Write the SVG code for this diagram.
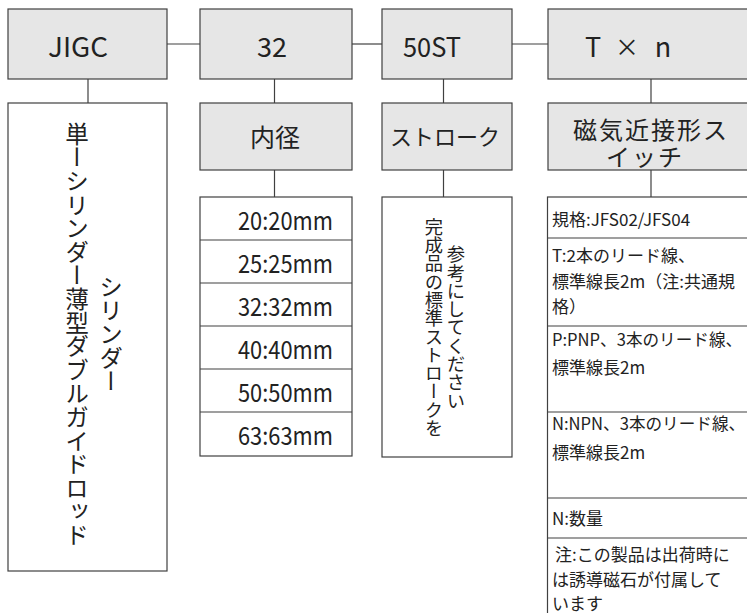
<svg xmlns="http://www.w3.org/2000/svg" width="747" height="613" viewBox="0 0 747 613">
<style>
.g{fill:#e6e6e6;stroke:#404040;stroke-width:1.2}
.w{fill:#ffffff;stroke:#404040;stroke-width:1.2}
.ln{stroke:#404040;stroke-width:1.2;fill:none}
text{font-family:"Noto Sans CJK JP","Noto Sans",sans-serif;fill:#222;dominant-baseline:central}
.big{font-size:27px;text-anchor:middle}
.mid{font-size:25px;text-anchor:middle}
.sz{font-size:25px;text-anchor:middle}
.vl{font-size:23.6px;writing-mode:vertical-rl;text-anchor:middle}
.vs{font-size:18.3px;writing-mode:vertical-rl;text-anchor:middle}
.sm{font-size:17px}
.sw{font-size:24px;letter-spacing:2px;text-anchor:middle}
</style>
<rect width="747" height="613" fill="#ffffff"/>
<g id="connectors">
<line class="ln" x1="167" y1="44" x2="200" y2="44"/>
<line class="ln" x1="352" y1="44" x2="382" y2="44"/>
<line class="ln" x1="512" y1="44" x2="548" y2="44"/>
<line class="ln" x1="88" y1="79" x2="88" y2="103"/>
<line class="ln" x1="274.5" y1="79" x2="274.5" y2="103"/>
<line class="ln" x1="274.5" y1="170" x2="274.5" y2="197"/>
<line class="ln" x1="443.5" y1="79" x2="443.5" y2="103"/>
<line class="ln" x1="443.5" y1="170" x2="443.5" y2="197"/>
<line class="ln" x1="651" y1="79" x2="651" y2="103"/>
<line class="ln" x1="651" y1="170" x2="651" y2="197"/>
</g>
<g id="n-jigc">
<rect class="g" x="8" y="9" width="159" height="70"/>
<text class="big" x="78" y="45" textLength="60" lengthAdjust="spacingAndGlyphs">JIGC</text>
</g>
<g id="n-32">
<rect class="g" x="200" y="9" width="152" height="70"/>
<text class="big" x="272" y="45" textLength="30" lengthAdjust="spacingAndGlyphs">32</text>
</g>
<g id="n-50st">
<rect class="g" x="382" y="9" width="130" height="70"/>
<text class="big" x="432" y="45" textLength="58" lengthAdjust="spacingAndGlyphs">50ST</text>
</g>
<g id="n-txn">
<rect class="g" x="548" y="9" width="215" height="70"/>
<text class="big" y="45"><tspan x="593">T</tspan><tspan x="627" style="font-size:24px">×</tspan><tspan x="663">n</tspan></text>
</g>
<g id="n-desc">
<rect class="w" x="8" y="103" width="159" height="468"/>
<text class="vl" x="77" y="334.5">単ーシリンダー薄型ダブルガイドロッド</text>
<text class="vl" x="111" y="334">シリンダー</text>
</g>
<g id="n-bore">
<rect class="g" x="200" y="103" width="152" height="67"/>
<text class="mid" x="275" y="136">内径</text>
</g>
<g id="n-bore-list">
<rect class="w" x="200" y="197" width="152" height="259"/>
<line class="ln" x1="200" y1="240" x2="352" y2="240"/>
<line class="ln" x1="200" y1="283" x2="352" y2="283"/>
<line class="ln" x1="200" y1="326" x2="352" y2="326"/>
<line class="ln" x1="200" y1="369" x2="352" y2="369"/>
<line class="ln" x1="200" y1="412" x2="352" y2="412"/>
<text class="sz" x="285.5" y="219" textLength="95" lengthAdjust="spacingAndGlyphs">20:20mm</text>
<text class="sz" x="285.5" y="262" textLength="95" lengthAdjust="spacingAndGlyphs">25:25mm</text>
<text class="sz" x="285.5" y="305" textLength="95" lengthAdjust="spacingAndGlyphs">32:32mm</text>
<text class="sz" x="285.5" y="348" textLength="95" lengthAdjust="spacingAndGlyphs">40:40mm</text>
<text class="sz" x="285.5" y="391" textLength="95" lengthAdjust="spacingAndGlyphs">50:50mm</text>
<text class="sz" x="285.5" y="434" textLength="95" lengthAdjust="spacingAndGlyphs">63:63mm</text>
</g>
<g id="n-stroke">
<rect class="g" x="382" y="103" width="130" height="67"/>
<text x="445" y="135" style="font-size:22px;text-anchor:middle">ストローク</text>
</g>
<g id="n-stroke-desc">
<rect class="w" x="382" y="197" width="130" height="260"/>
<text class="vs" x="434" y="327.5">完成品の標準ストロークを</text>
<text class="vs" x="456" y="327.5">参考にしてください</text>
</g>
<g id="n-switch">
<rect class="g" x="548" y="103" width="215" height="67"/>
<text class="sw"><tspan x="651" y="128">磁気近接形ス</tspan><tspan x="645" y="155">イッチ</tspan></text>
</g>
<g id="n-switch-list">
<rect class="w" x="547.5" y="197" width="215" height="430"/>
<line class="ln" x1="547.5" y1="238" x2="747" y2="238"/>
<line class="ln" x1="547.5" y1="326" x2="747" y2="326"/>
<line class="ln" x1="547.5" y1="412" x2="747" y2="412"/>
<line class="ln" x1="547.5" y1="498" x2="747" y2="498"/>
<line class="ln" x1="547.5" y1="538" x2="747" y2="538"/>
<text class="sm" x="552" y="218">規格:JFS02/JFS04</text>
<text class="sm" x="552" y="254">T:2本のリード線、</text>
<text class="sm" x="552" y="280">標準線長2m（注:共通規</text>
<text class="sm" x="552" y="305">格）</text>
<text class="sm" x="552" y="339" style="font-size:16.6px">P:PNP、3本のリード線、</text>
<text class="sm" x="552" y="366">標準線長2m</text>
<text class="sm" x="552" y="423" style="font-size:16.6px">N:NPN、3本のリード線、</text>
<text class="sm" x="552" y="451">標準線長2m</text>
<text class="sm" x="552" y="517">N:数量</text>
<text class="sm" x="555" y="553">注:この製品は出荷時に</text>
<text class="sm" x="552" y="578">は誘導磁石が付属して</text>
<text class="sm" x="552" y="602">います</text>
</g>
</svg>
